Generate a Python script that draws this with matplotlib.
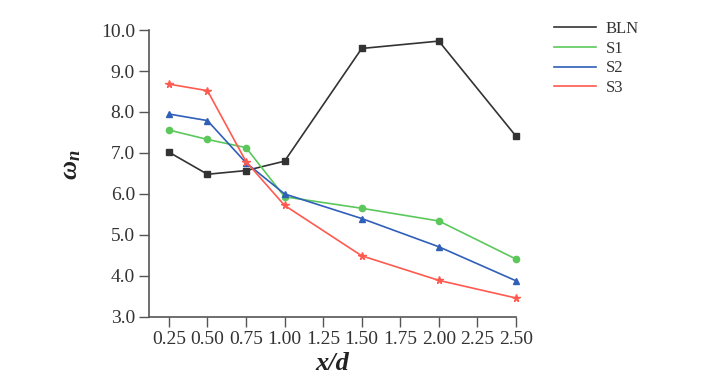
import matplotlib
matplotlib.use("Agg")
import matplotlib.pyplot as plt

plt.rcParams['font.family'] = ['Liberation Serif', 'DejaVu Serif']
plt.rcParams['mathtext.fontset'] = 'custom'
plt.rcParams['mathtext.it'] = 'Liberation Serif:italic:bold'
plt.rcParams['mathtext.rm'] = 'Liberation Serif:bold'

x_vals = [0.25, 0.50, 0.75, 1.00, 1.50, 2.00, 2.50]
bln = [7.02, 6.48, 6.57, 6.80, 9.55, 9.73, 7.41]
s1 = [7.56, 7.33, 7.13, 5.93, 5.65, 5.34, 4.41]
s2 = [7.95, 7.79, 6.76, 6.00, 5.40, 4.71, 3.88]
s3 = [8.68, 8.52, 6.79, 5.72, 4.49, 3.89, 3.46]
labels = ["BLN", "S1", "S2", "S3"]
x_ticks = [0.25, 0.50, 0.75, 1.00, 1.25, 1.50, 1.75, 2.00, 2.25, 2.50]
y_ticks = [3.0, 4.0, 5.0, 6.0, 7.0, 8.0, 9.0, 10.0]

fig = plt.figure(figsize=(7.02, 3.85), dpi=100)
ax = fig.add_axes([0.212, 0.177, 0.523, 0.745])

styles = [
    (bln, '#333333', 's', 4.5),
    (s1, '#5cc85c', 'o', 4.5),
    (s2, '#2f5fb8', '^', 5),
    (s3, '#ff5a50', '*', 5.5),
]
lines = []
for (vals, col, mk, ms), lab in zip(styles, labels):
    ln, = ax.plot(x_vals, vals, color=col, lw=1.2, marker=mk, ms=ms,
                  label=lab, clip_on=False, zorder=3)
    lines.append(ln)

ax.set_xlim(0.12, 2.5)
ax.set_ylim(3.0, 10.0)
ax.set_xticks(x_ticks)
ax.set_xticklabels([f"{t:.2f}" for t in x_ticks])
ax.set_yticks(y_ticks)
ax.set_yticklabels([f"{t:.1f}" for t in y_ticks])

for s in ['top', 'right']:
    ax.spines[s].set_visible(False)
for s in ['left', 'bottom']:
    ax.spines[s].set_color('#555555')
    ax.spines[s].set_linewidth(1.2)
ax.tick_params(direction='out', length=7, width=1.0, color='#555555',
               labelsize=14, colors='#333333', pad=3)

ax.set_xlabel('x/d', fontsize=19, fontstyle='italic', fontweight='bold',
              color='#222222', labelpad=3)
ax.set_ylabel(r'$\omega_n$', fontsize=19, color='#222222')
ax.yaxis.set_label_coords(-0.18, 0.53)

# legend outside on the right, lines only
handles = [plt.Line2D([], [], color=l.get_color(), lw=1.2) for l in lines]
fig.legend(handles, labels, loc='upper left', bbox_to_anchor=(0.770, 0.98),
           frameon=False, fontsize=12, handlelength=2.5, handletextpad=0.6,
           labelspacing=0.22, borderpad=0.3, labelcolor='#333333')

fig.savefig("out.png", dpi=100)
